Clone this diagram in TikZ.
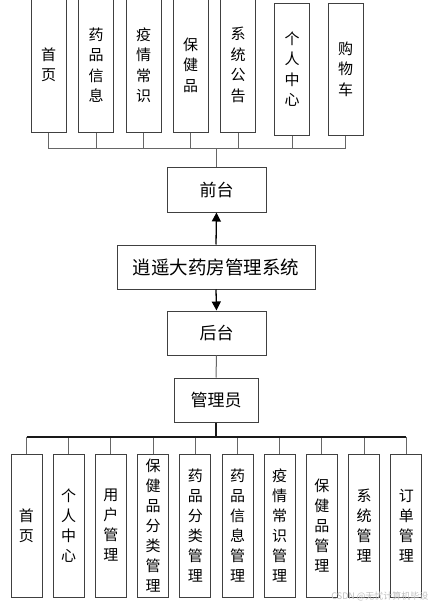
\documentclass[tikz,border=0pt]{standalone}
\usepackage{fontspec}
\newfontfamily\cjk{Noto Sans CJK SC}
\usetikzlibrary{arrows.meta}
\begin{document}
\begin{tikzpicture}[x=1pt,y=-1pt,
  box/.style={draw=black!75,line width=1pt,fill=white,inner sep=0pt,align=center},
  tbox/.style={box,minimum width=35pt,font=\cjk\fontsize{15}{20.5}\selectfont},
  bbox/.style={box,minimum width=31pt,minimum height=143pt,font=\cjk\fontsize{15}{20}\selectfont},
  hbox/.style={box,font=\cjk\fontsize{17}{20}\selectfont},
  conn/.style={draw=black!60,line width=1pt},
  bus/.style={draw=black!90,line width=1.1pt},
  arr/.style={draw=black,line width=1.3pt,-{Triangle[width=9pt,length=9pt]}}]
\clip (0,0) rectangle (435,608);
\fill[white] (0,0) rectangle (435,608);
% top row
\node[tbox,minimum height=134pt] (t1) at (48.5,65) {首\\页};
\node[tbox,minimum height=134pt] (t2) at (96,65) {药\\品\\信\\息};
\node[tbox,minimum height=134pt] (t3) at (143.5,65) {疫\\情\\常\\识};
\node[tbox,minimum height=134pt] (t4) at (190.5,65) {保\\健\\品};
\node[tbox,minimum height=134pt] (t5) at (238,65) {系\\统\\公\\告};
\node[tbox,minimum height=132pt] (t6) at (292,69) {个\\人\\中\\心};
\node[tbox,minimum height=132pt] (t7) at (345.5,69) {购\\物\\车};
% middle
\node[hbox,minimum width=99pt,minimum height=45pt] (front) at (216.5,189.5) {前台};
\node[hbox,minimum width=198pt,minimum height=44pt,font=\cjk\fontsize{18.5}{20}\selectfont] (sys) at (216,267) {逍遥大药房管理系统};
\node[hbox,minimum width=99pt,minimum height=44pt] (back) at (216.5,333) {后台};
\node[hbox,minimum width=84pt,minimum height=44pt] (admin) at (216,400) {管理员};
% bottom row
\node[bbox] (b1) at (26.5,525.5) {首\\页};
\node[bbox] (b2) at (68.7,525.5) {个\\人\\中\\心};
\node[bbox] (b3) at (110.9,525.5) {用\\户\\管\\理};
\node[bbox] (b4) at (153.1,525.5) {保\\健\\品\\分\\类\\管\\理};
\node[bbox] (b5) at (195.3,525.5) {药\\品\\分\\类\\管\\理};
\node[bbox] (b6) at (237.5,525.5) {药\\品\\信\\息\\管\\理};
\node[bbox] (b7) at (279.7,525.5) {疫\\情\\常\\识\\管\\理};
\node[bbox] (b8) at (321.9,525.5) {保\\健\\品\\管\\理};
\node[bbox] (b9) at (364.1,525.5) {系\\统\\管\\理};
\node[bbox] (b10) at (406.3,525.5) {订\\单\\管\\理};
% top connectors
\coordinate (tbus) at (216.5,148);
\foreach \i in {1,...,7} {
  \draw[conn] (t\i.south) |- (tbus);
}
\draw[conn] (tbus) -- (front.north);
% arrows
\draw[arr] (sys.north) -- (front.south);
\draw[arr] (sys.south) -- (back.north);
\draw[conn] (back.south) -- (admin.north);
% bottom connectors
\coordinate (bbus) at (216,437);
\draw[bus,line width=1.3pt] (admin.south) -- (bbus);
\foreach \i in {1,...,10} {
  \draw[conn] (b\i.north) |- (bbus);
}
\draw[bus] (b1.north |- bbus) -- (b10.north |- bbus);
% watermark
\node[text=black!25,font=\cjk\fontsize{9}{10}\selectfont,anchor=east] (wm) at (432,596) {CSDN @无忧计算机毕设};
\end{tikzpicture}
\end{document}
